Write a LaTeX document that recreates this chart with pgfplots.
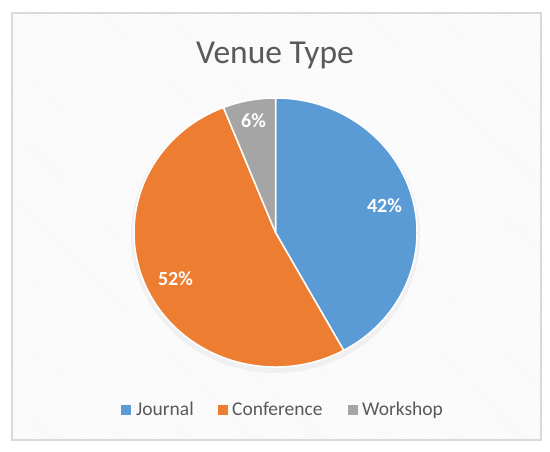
\documentclass[border=0pt]{standalone}
\usepackage{fontspec}
\setmainfont{Carlito}
\usepackage{pgfplots}
\pgfplotsset{compat=1.18}
\usetikzlibrary{patterns}
\definecolor{journal}{HTML}{5B9BD5}
\definecolor{conference}{HTML}{ED7D31}
\definecolor{workshop}{HTML}{A5A5A5}
\definecolor{txtgray}{HTML}{595959}
\definecolor{bordergray}{HTML}{D9D9D9}
% shares in percent
\def\vJ{42}
\def\vC{52}
\def\vW{6}
\pgfmathsetmacro{\aJ}{90}
\pgfmathsetmacro{\bJ}{\aJ-\vJ*3.6}
\pgfmathsetmacro{\bC}{\bJ-\vC*3.6}
\pgfmathsetmacro{\bW}{\bC-\vW*3.6}
\def\cx{275.5}
\def\cy{219.5}
\def\rx{141.5bp}
\def\ry{134.5bp}
\begin{document}
\begin{tikzpicture}
\begin{axis}[hide axis, x=1bp, y=1bp, xmin=0, xmax=550, ymin=0, ymax=452,
  scale only axis, clip=false]
\fill[white] (axis cs:0,0) rectangle (axis cs:550,452);
\fill[white] (axis cs:12,12) rectangle (axis cs:541,439);
\fill[pattern=north west lines, pattern color=black!6] (axis cs:12,12) rectangle (axis cs:541,439);
\draw[bordergray, line width=1.5bp] (axis cs:12,12) rectangle (axis cs:541,439);
% soft shadow
\fill[black!6] (axis cs:\cx,\cy-3) ellipse[x radius=\rx+3bp, y radius=\ry+3bp];
% slices
\filldraw[fill=journal, draw=white, line width=1.5bp, line join=round] (axis cs:\cx,\cy) -- ++({\rx*cos(\aJ)},{\ry*sin(\aJ)}) arc[start angle=\aJ, end angle=\bJ, x radius=\rx, y radius=\ry] -- cycle;
\filldraw[fill=conference, draw=white, line width=1.5bp, line join=round] (axis cs:\cx,\cy) -- ++({\rx*cos(\bJ)},{\ry*sin(\bJ)}) arc[start angle=\bJ, end angle=\bC, x radius=\rx, y radius=\ry] -- cycle;
\filldraw[fill=workshop, draw=white, line width=1.5bp, line join=round] (axis cs:\cx,\cy) -- ++({\rx*cos(\bC)},{\ry*sin(\bC)}) arc[start angle=\bC, end angle=\bW, x radius=\rx, y radius=\ry] -- cycle;
% labels
\node[anchor=base, text=white, font=\fontsize{20bp}{24bp}\selectfont\bfseries, inner sep=0pt] at (axis cs:384.5,239) {42\%};
\node[anchor=base, text=white, font=\fontsize{20bp}{24bp}\selectfont\bfseries, inner sep=0pt] at (axis cs:175.5,166) {52\%};
\node[anchor=base, text=white, font=\fontsize{20bp}{24bp}\selectfont\bfseries, inner sep=0pt] at (axis cs:253.5,324) {6\%};
% title
\node[anchor=base, text=txtgray, font=\fontsize{33.5bp}{40bp}\selectfont, inner sep=0pt] at (axis cs:275,388) {Venue Type};
% legend
\fill[journal] (axis cs:121,37) rectangle (axis cs:131,47);
\node[anchor=base west, text=txtgray, font=\fontsize{19.5bp}{23bp}\selectfont, inner sep=0pt] at (axis cs:136,36) {Journal};
\fill[conference] (axis cs:218,37) rectangle (axis cs:228,47);
\node[anchor=base west, text=txtgray, font=\fontsize{19.5bp}{23bp}\selectfont, inner sep=0pt] at (axis cs:232,36) {Conference};
\fill[workshop] (axis cs:348,37) rectangle (axis cs:358,47);
\node[anchor=base west, text=txtgray, font=\fontsize{19.5bp}{23bp}\selectfont, inner sep=0pt] at (axis cs:362,36) {Workshop};
\end{axis}
\end{tikzpicture}
\end{document}
